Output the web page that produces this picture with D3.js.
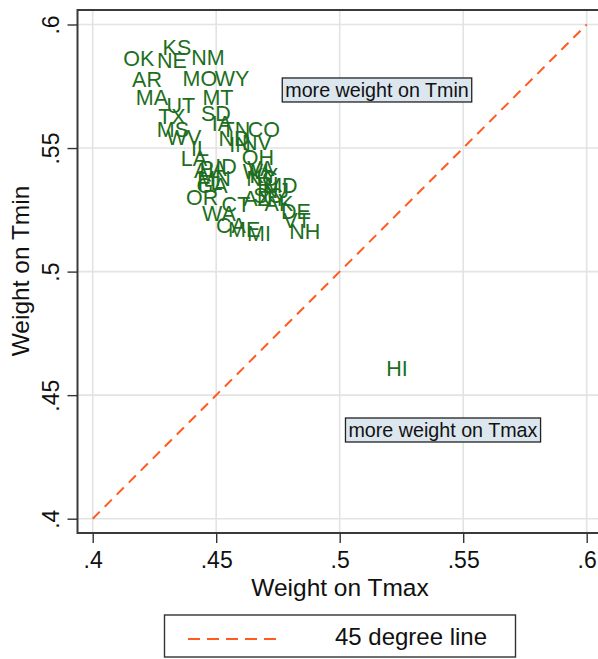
<!DOCTYPE html>
<html>
<head>
<meta charset="utf-8">
<script src="https://cdn.jsdelivr.net/npm/d3@7"></script>
<style>
  html, body { margin: 0; padding: 0; background: #fff; }
  svg { display: block; font-family: Arial, "Liberation Sans", sans-serif; }
</style>
</head>
<body>
<svg id="chart" width="598" height="659"></svg>
<script>
// State abbreviations and their estimated weights on Tmax / Tmin
const states = ["KS","OK","NE","NM","AR","MO","WY","MA","MT","UT","TX","SD","MS","IA","TN","CO",
  "WV","ND","IN","NV","IL","LA","OH","AL","PA","ID","WI","VA","KY","NC","MN","FL","GA","RI",
  "MD","NJ","SC","OR","AZ","NY","AK","CT","DE","WA","VT","CA","NH","ME","MI","HI"];
const weightTmax = [0.4341,0.4187,0.4321,0.4467,0.4220,0.4434,0.4564,0.4240,0.4507,0.4357,0.4321,0.4499,
  0.4325,0.4523,0.4580,0.4693,0.4370,0.4572,0.4596,0.4665,0.4434,0.4410,0.4669,0.4463,0.4487,0.4540,
  0.4661,0.4681,0.4693,0.4685,0.4491,0.4475,0.4483,0.4710,0.4762,0.4742,0.4710,0.4443,0.4665,0.4726,
  0.4754,0.4580,0.4823,0.4511,0.4827,0.4560,0.4859,0.4613,0.4673,0.5232];
const weightTmin = [0.5909,0.5864,0.5856,0.5868,0.5779,0.5783,0.5783,0.5707,0.5707,0.5675,0.5630,0.5642,
  0.5577,0.5602,0.5577,0.5577,0.5545,0.5541,0.5517,0.5525,0.5500,0.5459,0.5463,0.5411,0.5419,0.5427,
  0.5407,0.5419,0.5391,0.5378,0.5378,0.5362,0.5350,0.5354,0.5350,0.5330,0.5310,0.5302,0.5298,0.5298,
  0.5278,0.5274,0.5245,0.5237,0.5209,0.5189,0.5165,0.5173,0.5157,0.4610];

const ticks = [0.4, 0.45, 0.5, 0.55, 0.6];
const diagonal = [0.4, 0.6];
const notes = [
  { text: "more weight on Tmin", x: 0.5151, y: 0.5735 },
  { text: "more weight on Tmax", x: 0.5418, y: 0.4359 }
];
const legendLabel = "45 degree line";
const xTitle = "Weight on Tmax";
const yTitle = "Weight on Tmin";

const svg = d3.select("#chart");
const frame = { left: 77.5, top: 10, right: 602, bottom: 533 };

const x = d3.scaleLinear().domain([0.4, 0.6]).range([92.7, 586.7]);
const y = d3.scaleLinear().domain([0.4, 0.6]).range([518.7, 24.5]);
const fmt = v => d3.format(".2~f")(v).replace(/^0\./, ".");

// grid
const grid = svg.append("g").attr("stroke", "#e3e3e3").attr("stroke-width", 1.6);
grid.selectAll("line.v").data(ticks).join("line").attr("class", "v")
  .attr("x1", d => x(d)).attr("x2", d => x(d))
  .attr("y1", frame.top).attr("y2", frame.bottom);
grid.selectAll("line.h").data(ticks).join("line").attr("class", "h")
  .attr("y1", d => y(d)).attr("y2", d => y(d))
  .attr("x1", frame.left).attr("x2", frame.right);

// 45 degree line
svg.append("line")
  .attr("x1", x(diagonal[0])).attr("y1", y(diagonal[0]))
  .attr("x2", x(diagonal[1])).attr("y2", y(diagonal[1]))
  .attr("stroke", "#ff5a1f").attr("stroke-width", 2)
  .attr("stroke-dasharray", "10,7");

// state labels
svg.append("g").selectAll("text").data(states).join("text")
  .attr("x", (d, i) => x(weightTmax[i]))
  .attr("y", (d, i) => y(weightTmin[i]))
  .attr("dy", "0.36em")
  .attr("text-anchor", "middle")
  .attr("font-size", 21.5)
  .attr("fill", "#1d6e1d")
  .text(d => d);

// annotation boxes
notes.forEach(n => {
  const g = svg.append("g");
  const t = g.append("text")
    .attr("x", x(n.x)).attr("y", y(n.y)).attr("dy", "0.35em")
    .attr("text-anchor", "middle").attr("font-size", 19.7).attr("fill", "#111")
    .text(n.text);
  const b = t.node().getBBox();
  g.insert("rect", "text")
    .attr("x", b.x - 3).attr("y", y(n.y) - 12)
    .attr("width", b.width + 6).attr("height", 24)
    .attr("fill", "#dce6ee").attr("stroke", "#222").attr("stroke-width", 1.3);
});

// frame
svg.append("rect")
  .attr("x", frame.left).attr("y", frame.top)
  .attr("width", frame.right - frame.left).attr("height", frame.bottom - frame.top)
  .attr("fill", "none").attr("stroke", "#3a3a3a").attr("stroke-width", 2);

// axes
const xAxis = svg.append("g").attr("transform", `translate(0,${frame.bottom})`)
  .call(d3.axisBottom(x).tickValues(ticks).tickFormat(fmt).tickSize(10).tickPadding(9));
const yAxis = svg.append("g").attr("transform", `translate(${frame.left},0)`)
  .call(d3.axisLeft(y).tickValues(ticks).tickFormat(fmt).tickSize(10));
[xAxis, yAxis].forEach(a => {
  a.select(".domain").remove();
  a.selectAll(".tick line").attr("stroke", "#333").attr("stroke-width", 1.4);
  a.selectAll(".tick text").attr("font-size", 23).attr("fill", "#111")
    .attr("font-family", "Arial, 'Liberation Sans', sans-serif");
});
yAxis.selectAll(".tick text")
  .attr("transform", "rotate(-90)")
  .attr("x", 0).attr("y", -19).attr("dy", 0)
  .attr("text-anchor", "middle");

// axis titles
svg.append("text").attr("x", 340).attr("y", 596)
  .attr("text-anchor", "middle").attr("font-size", 24.5).attr("fill", "#111").text(xTitle);
svg.append("text").attr("transform", "translate(29,271) rotate(-90)")
  .attr("text-anchor", "middle").attr("font-size", 24.5).attr("fill", "#111").text(yTitle);

// legend
const lg = svg.append("g");
lg.append("rect").attr("x", 164.5).attr("y", 615).attr("width", 351).attr("height", 42)
  .attr("fill", "#fff").attr("stroke", "#333").attr("stroke-width", 1.4);
lg.append("line").attr("x1", 188).attr("x2", 282).attr("y1", 639).attr("y2", 639)
  .attr("stroke", "#ff5a1f").attr("stroke-width", 2).attr("stroke-dasharray", "12,7");
lg.append("text").attr("x", 411).attr("y", 637).attr("dy", "0.35em")
  .attr("text-anchor", "middle").attr("font-size", 24).attr("fill", "#111").text(legendLabel);
</script>
</body>
</html>
